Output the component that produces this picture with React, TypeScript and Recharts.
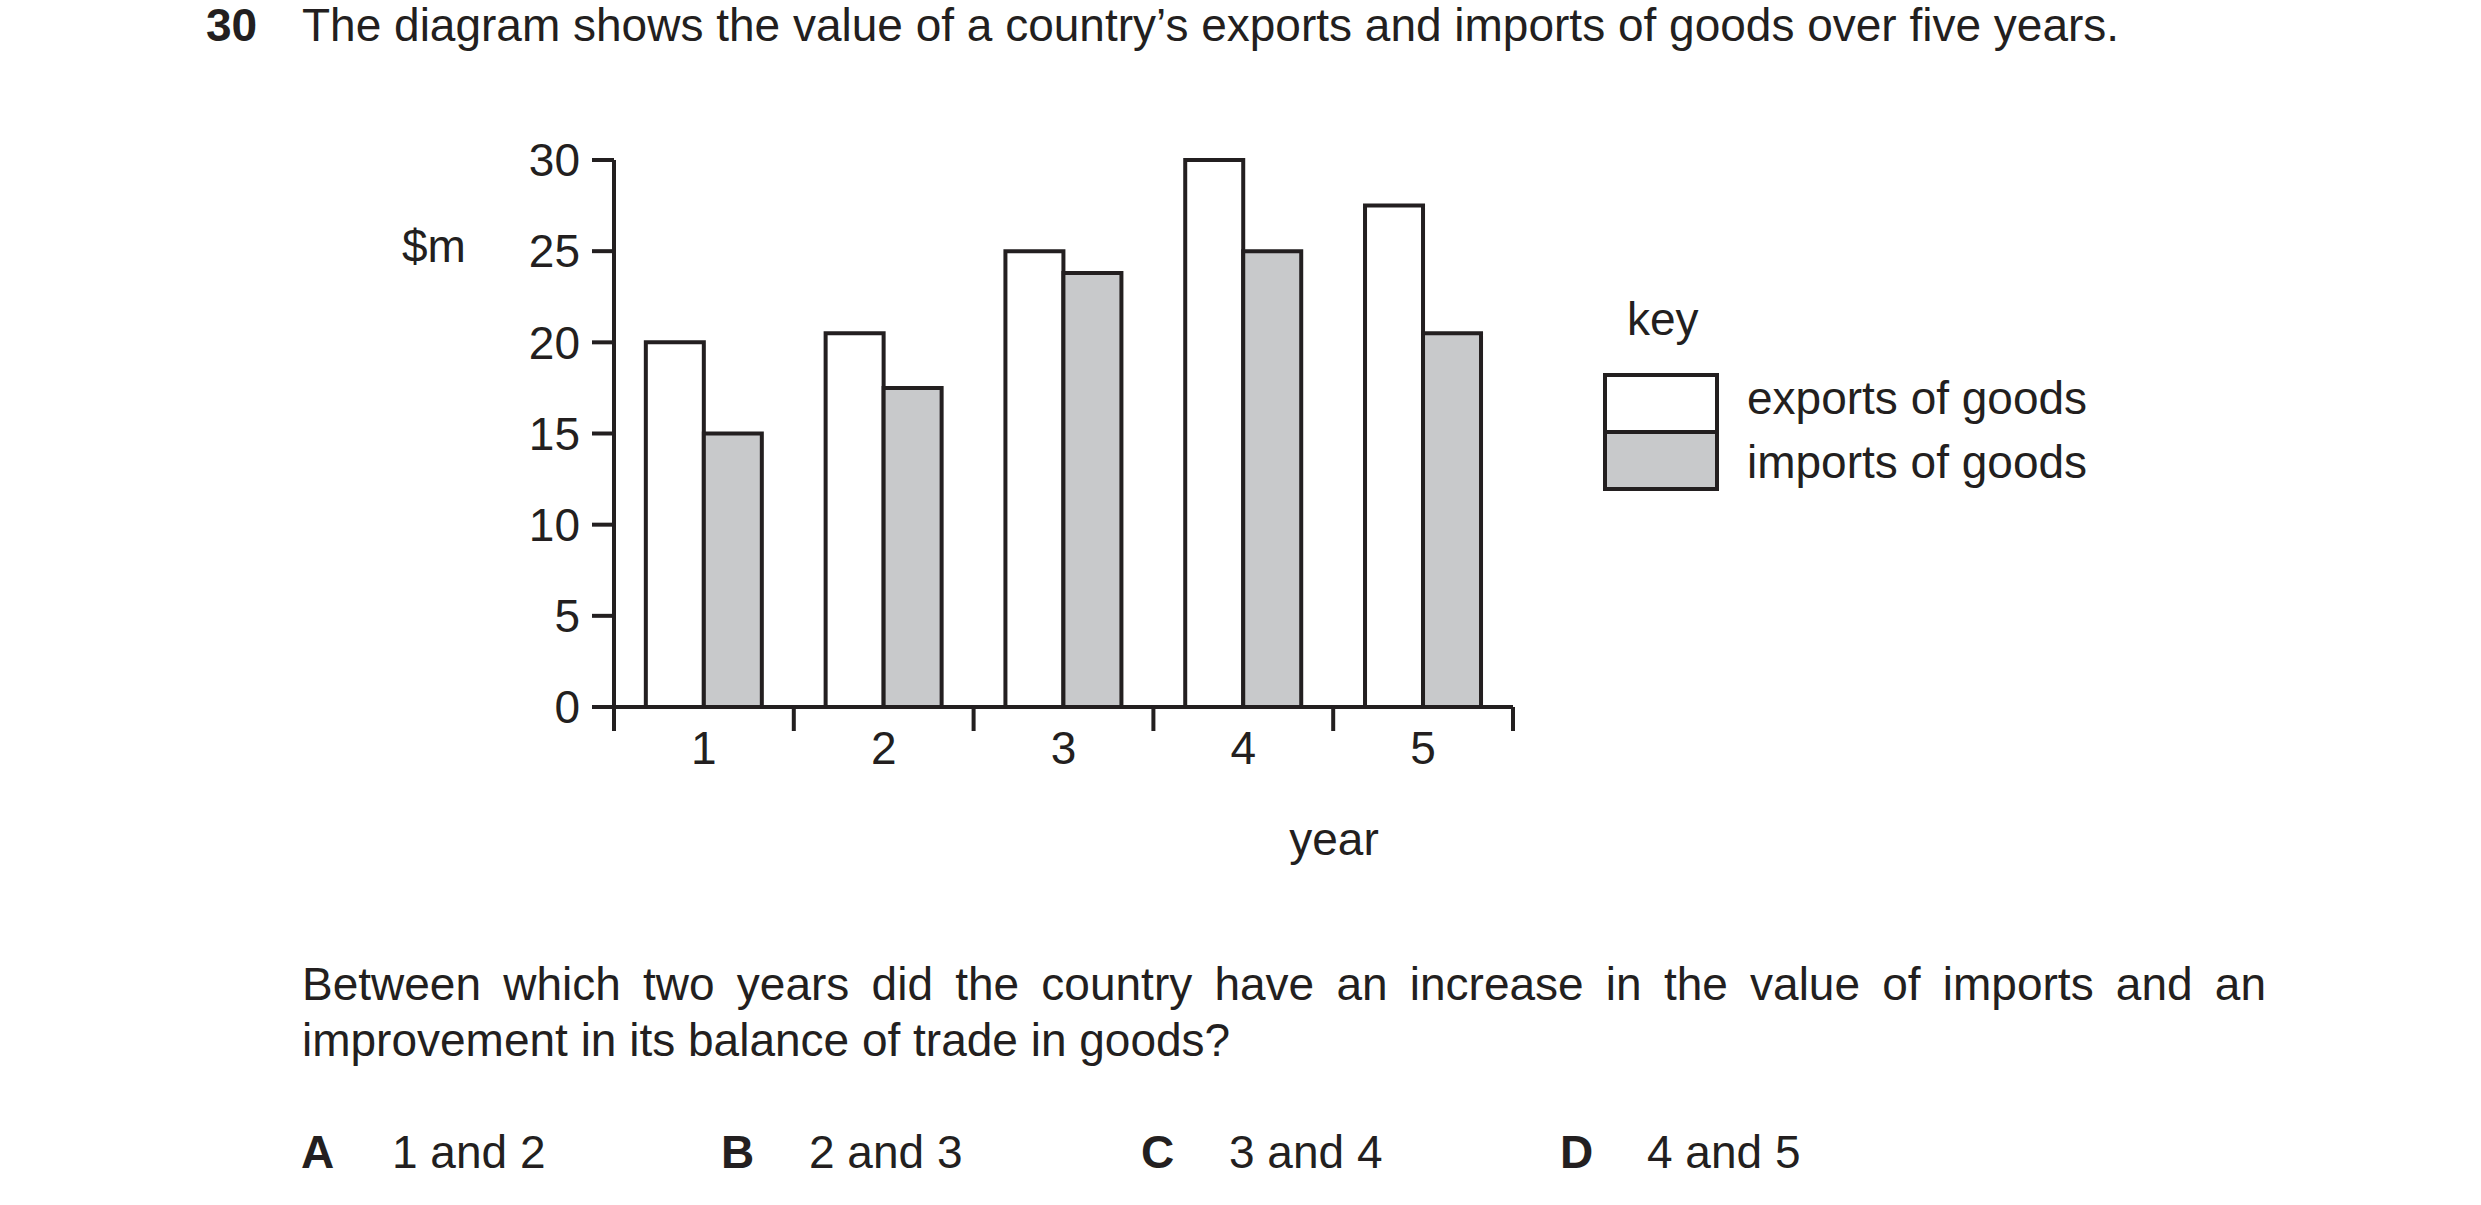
import React from 'react';
import { BarChart, Bar, XAxis, YAxis, Legend } from 'recharts';

const years = ['1', '2', '3', '4', '5'];
const exportsOfGoods = [20, 20.5, 25, 30, 27.5];
const importsOfGoods = [15, 17.5, 23.8, 25, 20.5];
const yTicks = [0, 5, 10, 15, 20, 25, 30];
const yearEdges = [0, 1, 2, 3, 4, 5];

const ink = '#231f20';
const font = '"Liberation Sans", Arial, Helvetica, sans-serif';
const fs = 46;
const lw = 4;

const data = years.map((y, i) => ({ year: y, exports: exportsOfGoods[i], imports: importsOfGoods[i], edge: i + 0.5 }));

const txt = (left: number, top: number, extra: React.CSSProperties = {}): React.CSSProperties => ({
  position: 'absolute', left, top, fontSize: fs, lineHeight: `${fs}px`, color: ink, whiteSpace: 'nowrap', ...extra,
});

const renderKey = (props: any) => {
  const payload = props.payload || [];
  return (
    <div style={{ position: 'relative', width: 720, height: 240, fontFamily: font, color: ink }}>
      <div style={txt(24, 14)}>key</div>
      {payload.map((p: any, i: number) => (
        <React.Fragment key={p.value}>
          <div style={{ position: 'absolute', left: 0, top: 91 + i * 57, width: 116, height: 61, boxSizing: 'border-box', border: `${lw}px solid ${ink}`, background: p.color }} />
          <div style={txt(144, 93 + i * 64)}>{p.value}</div>
        </React.Fragment>
      ))}
    </div>
  );
};

export default function App() {
  return (
    <div style={{ position: 'absolute', left: 0, top: 0, width: 2481, height: 1205, background: '#fff', fontFamily: font, color: ink }}>
      <div style={txt(206, 2, { fontWeight: 'bold' })}>30</div>
      <div style={txt(302, 2)}>The diagram shows the value of a country’s exports and imports of goods over five years.</div>

      <div style={txt(402, 223)}>$m</div>
      <div style={txt(1334, 816, { transform: 'translateX(-50%)' })}>year</div>

      <div style={{ position: 'absolute', left: 0, top: 0 }}>
        <BarChart
          width={2481}
          height={1205}
          data={data}
          margin={{ top: 160, right: 968, bottom: 437, left: 494 }}
          barCategoryGap="17.7%"
          barGap={0}
          style={{ fontFamily: font }}
        >
          <XAxis
            xAxisId="a_edges"
            type="number"
            dataKey="edge"
            domain={[0, 5]}
            ticks={yearEdges}
            interval={0}
            allowDataOverflow
            height={1}
            tickFormatter={() => ''}
            tickSize={24}
            axisLine={{ stroke: ink, strokeWidth: lw }}
            tickLine={{ stroke: ink, strokeWidth: lw }}
          />
          <XAxis
            xAxisId="b_year"
            dataKey="year"
            height={60}
            axisLine={false}
            tickLine={false}
            tickSize={21}
            tickMargin={2}
            tick={{ fontSize: fs, fill: ink }}
          />
          <YAxis
            width={120}
            domain={[0, 30]}
            ticks={yTicks}
            interval={0}
            tickSize={22}
            tickMargin={12}
            axisLine={{ stroke: ink, strokeWidth: lw }}
            tickLine={{ stroke: ink, strokeWidth: lw }}
            tick={{ fontSize: fs, fill: ink }}
          />
          <Legend
            layout="vertical"
            align="center"
            verticalAlign="middle"
            wrapperStyle={{ left: 1603, top: 282, width: 720, height: 240 }}
            content={renderKey}
          />
          <Bar xAxisId="b_year" dataKey="exports" name="exports of goods" fill="#ffffff" stroke={ink} strokeWidth={lw} isAnimationActive={false} />
          <Bar xAxisId="b_year" dataKey="imports" name="imports of goods" fill="#c8c9cb" stroke={ink} strokeWidth={lw} isAnimationActive={false} />
        </BarChart>
      </div>

      <div style={{ position: 'absolute', left: 302, top: 961, width: 1964, fontSize: fs, lineHeight: `${fs}px`, textAlign: 'justify', textAlignLast: 'justify' }}>
        Between which two years did the country have an increase in the value of imports and an
      </div>
      <div style={txt(302, 1017)}>improvement in its balance of trade in goods?</div>

      <div style={txt(301, 1129, { fontWeight: 'bold' })}>A</div>
      <div style={txt(392, 1129)}>1 and 2</div>
      <div style={txt(721, 1129, { fontWeight: 'bold' })}>B</div>
      <div style={txt(809, 1129)}>2 and 3</div>
      <div style={txt(1141, 1129, { fontWeight: 'bold' })}>C</div>
      <div style={txt(1229, 1129)}>3 and 4</div>
      <div style={txt(1560, 1129, { fontWeight: 'bold' })}>D</div>
      <div style={txt(1647, 1129)}>4 and 5</div>
    </div>
  );
}
